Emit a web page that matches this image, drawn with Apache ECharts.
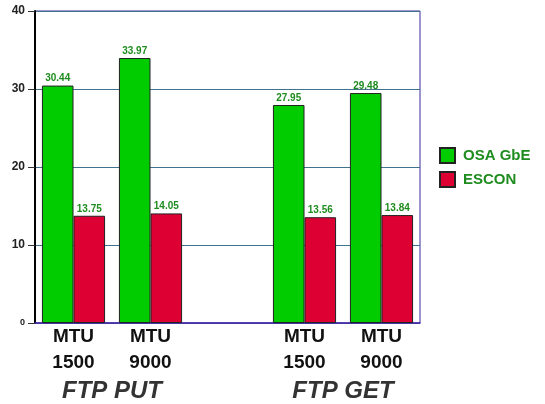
<!DOCTYPE html>
<html>
<head>
<meta charset="utf-8">
<script src="https://cdn.jsdelivr.net/npm/echarts@6/dist/echarts.min.js"></script>
<style>
  html, body { margin: 0; padding: 0; background: #fff; }
  #chart { width: 545px; height: 404px; }
</style>
</head>
<body>
<div id="chart"></div>
<script>
// categories (empty slot separates the two groups)
const categories = ['MTU\n1500', 'MTU\n9000', '', 'MTU\n1500', 'MTU\n9000'];
const osaGbe = [30.44, 33.97, null, 27.95, 29.48];
const escon = [13.75, 14.05, null, 13.56, 13.84];
const groupNames = ['FTP PUT', 'FTP GET'];
const groupCenters = [1, 4];   // boundaries in category units
const yTicks = [0, 10, 20, 30, 40];

const labelGreen = '#1e8c1e';
const font = '"Liberation Sans", Arial, sans-serif';

const chart = echarts.init(document.getElementById('chart'), null, { renderer: 'canvas' });

const barLabel = {
    show: true,
    position: 'top',
    distance: 2,
    color: labelGreen,
    fontSize: 10,
    fontWeight: 'bold',
    fontFamily: font,
    formatter: (p) => p.value.toFixed(2)
};

const option = {
    backgroundColor: '#fff',
    animation: false,
    grid: {
        left: 35,
        right: 125,
        top: 11,
        bottom: 81,
        show: true,
        borderColor: '#3a2a9a',
        borderWidth: 1
    },
    legend: {
        orient: 'vertical',
        left: 434,
        top: 142,
        icon: 'rect',
        itemWidth: 15,
        itemHeight: 15,
        itemGap: 7,
        textStyle: {
            color: labelGreen, fontSize: 15, fontWeight: 'bold', fontFamily: font,
            padding: [0, 0, 0, 3]
        },
        data: ['OSA GbE', 'ESCON']
    },
    xAxis: [
        {
            type: 'category',
            data: categories,
            axisLine: { lineStyle: { color: '#4422aa', width: 1.5 } },
            axisTick: { show: false },
            axisLabel: {
                color: '#111',
                fontSize: 19,
                fontWeight: 'bold',
                fontFamily: font,
                lineHeight: 26,
                margin: 1,
                interval: 0
            }
        },
        {
            type: 'value',
            position: 'bottom',
            min: 0,
            max: categories.length,
            axisLine: { show: false },
            axisTick: { show: false },
            splitLine: { show: false },
            axisLabel: {
                customValues: groupCenters,
                formatter: (v) => groupNames[groupCenters.indexOf(v)] || '',
                color: '#333',
                fontSize: 24,
                fontWeight: 'bold',
                fontStyle: 'italic',
                fontFamily: font,
                margin: 56
            }
        }
    ],
    yAxis: {
        type: 'value',
        min: yTicks[0],
        max: yTicks[yTicks.length - 1],
        interval: 10,
        axisLine: { show: true, lineStyle: { color: '#000', width: 2 } },
        axisTick: { show: true, length: 7, lineStyle: { color: '#333' } },
        splitLine: { lineStyle: { color: '#41728f', width: 1 } },
        axisLabel: {
            margin: 10,
            fontFamily: font,
            formatter: (v) => v === 0 ? '{s|0}' : '{b|' + v + '}',
            rich: {
                b: { fontSize: 12, fontWeight: 'bold', color: '#222', fontFamily: font },
                s: { fontSize: 9, fontWeight: 'bold', color: '#222', fontFamily: font }
            }
        }
    },
    series: [
        {
            name: 'OSA GbE',
            type: 'bar',
            data: osaGbe,
            barCategoryGap: '18%',
            barGap: '0%',
            itemStyle: { color: '#00cc00', borderColor: '#222', borderWidth: 1 },
            label: barLabel
        },
        {
            name: 'ESCON',
            type: 'bar',
            data: escon,
            itemStyle: { color: '#dd0033', borderColor: '#222', borderWidth: 1 },
            label: barLabel
        }
    ]
};

chart.setOption(option);
window.addEventListener('resize', () => chart?.resize());
</script>
</body>
</html>
